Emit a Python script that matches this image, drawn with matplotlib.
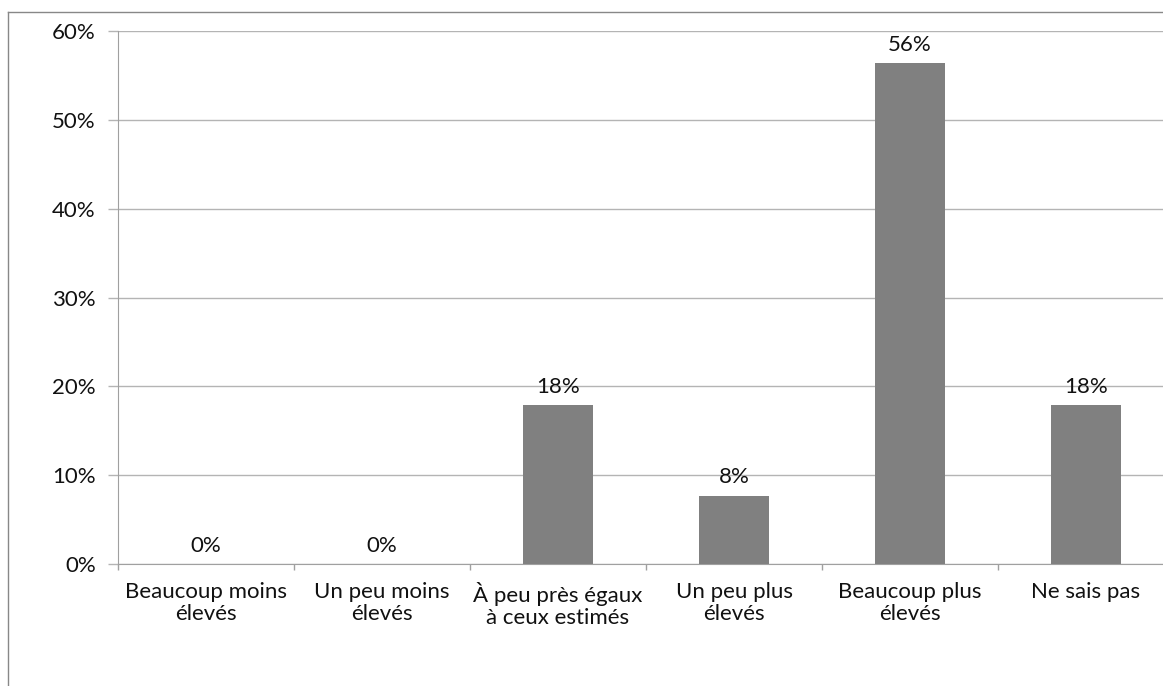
import matplotlib
matplotlib.use("Agg")
import matplotlib.pyplot as plt
from matplotlib.lines import Line2D

categories = [
    "Beaucoup moins\nélevés",
    "Un peu moins\nélevés",
    "À peu près égaux\nà ceux estimés",
    "Un peu plus\nélevés",
    "Beaucoup plus\nélevés",
    "Ne sais pas",
]
values = [0.0, 0.0, 17.9, 7.7, 56.4, 17.9]
yticks = [0, 10, 20, 30, 40, 50, 60]

W, H = 1163, 686
fig = plt.figure(figsize=(W / 100, H / 100), dpi=100)
fig.patch.set_facecolor("white")

plt.rcParams["font.family"] = ["Lato", "DejaVu Sans"]
FS = 16
TXT = "#111111"

# plot area in pixel coordinates
left, right, top, bottom = 118, 1174, 31, 564
ax = fig.add_axes([left / W, 1 - bottom / H, (right - left) / W, (bottom - top) / H])

x = list(range(len(categories)))
ax.bar(x, values, width=0.40, color="#808080", zorder=3)

for xi, v in zip(x, values):
    ax.annotate(f"{v:.0f}%", (xi, v), xytext=(0, 6), textcoords="offset points",
                ha="center", va="bottom", fontsize=FS, color=TXT, zorder=4)

ax.set_xlim(-0.5, len(categories) - 0.5)
ax.set_ylim(0, 60)
ax.set_yticks(yticks)
ax.set_yticklabels([f"{t}%" for t in yticks], fontsize=FS, color=TXT)
ax.yaxis.grid(True, color="#b4b4b4", linewidth=1.0, zorder=0)
ax.set_axisbelow(True)

# category labels centred between boundary ticks
ax.set_xticks(x)
ax.set_xticklabels(categories, fontsize=FS, color=TXT, linespacing=1.1)
ax.tick_params(axis="x", which="major", length=0, pad=13)
ax.set_xticks([i - 0.5 for i in range(len(categories) + 1)], minor=True)
ax.tick_params(axis="x", which="minor", length=4, color="#a0a0a0", width=1)
ax.tick_params(axis="y", length=7, color="#b4b4b4", width=1, pad=9)

for side in ("top", "right"):
    ax.spines[side].set_visible(False)
ax.spines["left"].set_color("#a0a0a0")
ax.spines["bottom"].set_color("#a0a0a0")

# outer chart frame
fig.add_artist(Line2D([8 / W, 8 / W], [1 - 12 / H, -0.1], transform=fig.transFigure,
                      color="#888888", linewidth=1.0))
fig.add_artist(Line2D([8 / W, 1.1], [1 - 12 / H, 1 - 12 / H], transform=fig.transFigure,
                      color="#888888", linewidth=1.0))

fig.savefig("out.png", dpi=100, facecolor="white")
